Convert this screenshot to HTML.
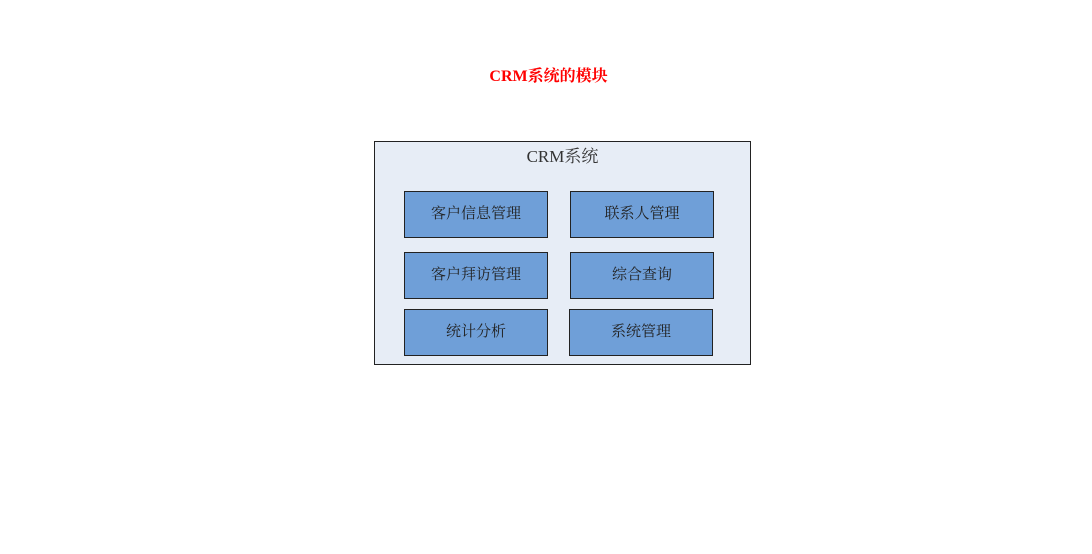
<!DOCTYPE html>
<html><head><meta charset="utf-8"><style>
body{margin:0;width:1092px;height:554px;background:#fff;position:relative;overflow:hidden;font-family:"Liberation Serif","Noto Serif CJK SC",serif;}
.t{position:absolute;left:0;width:1097px;top:67px;text-align:center;color:#f00;font-weight:bold;font-size:16px;line-height:20px;}
.o{position:absolute;left:374px;top:141px;width:375px;height:222px;border:1px solid #222;background:#e7edf6;}
.ot{position:absolute;left:374px;top:146px;width:377px;text-align:center;font-size:17px;color:#333;line-height:22px;}
.b{position:absolute;width:142px;height:45px;border:1px solid #222;background:#6f9fd8;text-align:center;line-height:45px;font-size:15px;color:#222;font-family:"Liberation Serif","Noto Serif CJK SC",serif;}
</style></head><body>
<div class="t">CRM系统的模块</div>
<div class="o"></div>
<div class="ot">CRM系统</div>
<div class="b" style="left:404px;top:191px">客户信息管理</div>
<div class="b" style="left:570px;top:191px">联系人管理</div>
<div class="b" style="left:404px;top:252px">客户拜访管理</div>
<div class="b" style="left:570px;top:252px">综合查询</div>
<div class="b" style="left:404px;top:309px">统计分析</div>
<div class="b" style="left:569px;top:309px">系统管理</div>
</body></html>
